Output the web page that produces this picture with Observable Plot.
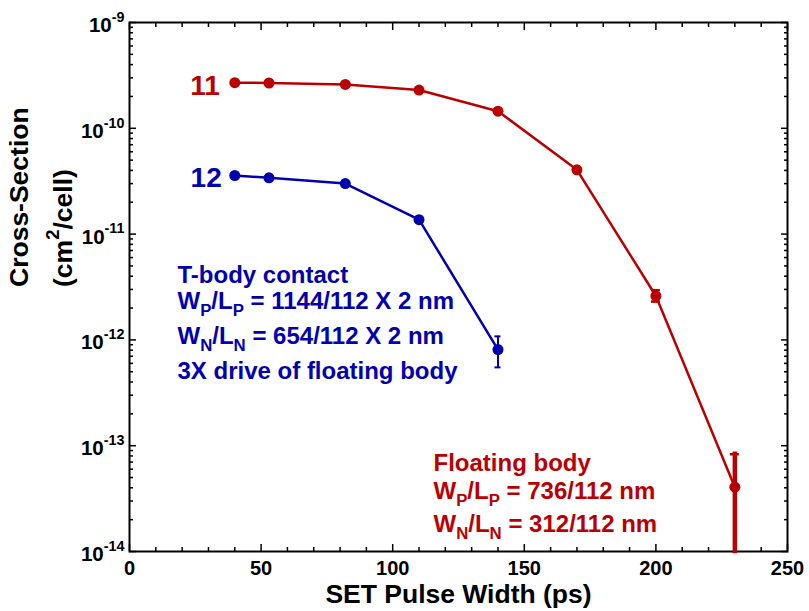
<!DOCTYPE html>
<html>
<head>
<meta charset="utf-8">
<script src="https://cdn.jsdelivr.net/npm/d3@7"></script>
<script src="https://cdn.jsdelivr.net/npm/@observablehq/plot@0.6"></script>
<style>
  body { margin: 0; background: #fff; }
  #chart { width: 809px; height: 611px; }
</style>
</head>
<body>
<div id="chart"></div>
<script>
// Series labels
const seriesNames = ["11", "12"];

// Floating body inverter chain (series "11")
const pulseWidth11 = [40, 53, 82, 110, 140, 170, 200, 230];
const crossSection11 = [2.7e-10, 2.68e-10, 2.6e-10, 2.3e-10, 1.45e-10, 4.05e-11, 2.6e-12, 4.05e-14];
const errX11 = [200, 230];
const errLo11 = [2.3e-12, 1e-14];
const errHi11 = [2.95e-12, 8.3e-14];

// T-body contact inverter chain (series "12")
const pulseWidth12 = [40, 53, 82, 110, 140];
const crossSection12 = [3.58e-11, 3.4e-11, 3.0e-11, 1.37e-11, 8.1e-13];
const errX12 = [140];
const errLo12 = [5.5e-13];
const errHi12 = [1.08e-12];

// Axis ticks
const xTicks = [0, 50, 100, 150, 200, 250];
const yTicks = [1e-14, 1e-13, 1e-12, 1e-11, 1e-10, 1e-9];

// Annotation text (markup: _{..} subscript, ^{..} superscript)
const noteTBody = ["T-body contact", "W_{P}/L_{P} = 1144/112 X 2 nm", "W_{N}/L_{N} = 654/112 X 2 nm", "3X drive of floating body"];
const noteFloating = ["Floating body", "W_{P}/L_{P} = 736/112 nm", "W_{N}/L_{N} = 312/112 nm"];
const xTitle = "SET Pulse Width (ps)";
const yTitle = ["Cross-Section", "(cm^{2}/cell)"];

const RED = "#ba0000";
const BLUE = "#0000b0";
const FONT = "'Liberation Sans', Arial, Helvetica, sans-serif";

const pts11 = pulseWidth11.map((x, i) => ({x, y: crossSection11[i]}));
const pts12 = pulseWidth12.map((x, i) => ({x, y: crossSection12[i]}));
const err11 = errX11.map((x, i) => ({x, lo: errLo11[i], hi: errHi11[i]}));
const err12 = errX12.map((x, i) => ({x, lo: errLo12[i], hi: errHi12[i]}));

const xMinor = d3.range(10, 250, 10).filter(v => v % 50 !== 0);
const yMinor = [];
for (let k = -14; k < -9; ++k) for (let m = 2; m <= 9; ++m) yMinor.push(m * Math.pow(10, k));

// Inward ticks on all four sides of the frame
const blank = () => "";
const tickMarks = [];
for (const anchor of ["bottom", "top"]) {
  tickMarks.push(Plot.axisX({anchor, ticks: xTicks, tickSize: -7, tickFormat: blank, label: null, strokeWidth: 1.5}));
  tickMarks.push(Plot.axisX({anchor, ticks: xMinor, tickSize: -4, tickFormat: blank, label: null, strokeWidth: 1.5}));
}
for (const anchor of ["left", "right"]) {
  tickMarks.push(Plot.axisY({anchor, ticks: yTicks, tickSize: -7, tickFormat: blank, label: null, strokeWidth: 1.5}));
  tickMarks.push(Plot.axisY({anchor, ticks: yMinor, tickSize: -4, tickFormat: blank, label: null, strokeWidth: 1.5}));
}

// Device description blocks
const noteMarks = [];
const tBodyOffsets = [253, 279, 314, 349];
noteTBody.forEach((line, i) => noteMarks.push(
  Plot.text([line], {text: d => d, frameAnchor: "top-left", textAnchor: "start", lineAnchor: "middle",
    dx: 48, dy: tBodyOffsets[i], fill: BLUE, fontSize: 24})));
const floatingOffsets = [441, 469, 502];
noteFloating.forEach((line, i) => noteMarks.push(
  Plot.text([line], {text: d => d, frameAnchor: "top-left", textAnchor: "start", lineAnchor: "middle",
    dx: 304, dy: floatingOffsets[i], fill: RED, fontSize: 24})));

const chart = Plot.plot({
  width: 809,
  height: 611,
  marginLeft: 129,
  marginRight: 22,
  marginTop: 22,
  marginBottom: 60,
  style: {fontFamily: FONT, fontWeight: "bold", fontSize: "20px", color: "#000", background: "#fff"},
  x: {domain: [0, 250]},
  y: {type: "log", domain: [1e-14, 1e-9]},
  marks: [
    ...tickMarks,
    Plot.axisX({anchor: "bottom", ticks: xTicks, tickSize: 0, tickPadding: 9, label: null, fontSize: 20}),
    Plot.axisY({anchor: "left", ticks: yTicks, tickSize: 0, tickPadding: 5, label: null, fontSize: 20.5, dy: 3,
      tickFormat: d => `10^{${Math.round(Math.log10(d))}}`}),
    Plot.frame({stroke: "#000", strokeWidth: 2}),

    // series 11
    Plot.line(pts11, {x: "x", y: "y", stroke: RED, strokeWidth: 2.5}),
    Plot.ruleX(err11, {x: "x", y1: "lo", y2: "hi", stroke: RED, strokeWidth: 2.5, filter: d => d.x < 220}),
    Plot.ruleX(err11, {x: "x", y1: "lo", y2: "hi", stroke: RED, strokeWidth: 4.5, strokeLinecap: "square", filter: d => d.x >= 220}),
    Plot.ruleY(err11, {y: "hi", x1: "x", x2: "x", insetLeft: -4.5, insetRight: -4.5, stroke: RED, strokeWidth: 2.5}),
    Plot.ruleY(err11, {y: "lo", x1: "x", x2: "x", insetLeft: -4.5, insetRight: -4.5, stroke: RED, strokeWidth: 2.5, filter: d => d.x < 220}),
    Plot.dot(pts11, {x: "x", y: "y", r: 5.5, fill: RED}),
    Plot.text(pts11.slice(0, 1), {x: "x", y: "y", text: () => seriesNames[0], textAnchor: "end", dx: -15, dy: 3, fill: RED, fontSize: 28}),

    // series 12
    Plot.line(pts12, {x: "x", y: "y", stroke: BLUE, strokeWidth: 2.5}),
    Plot.ruleX(err12, {x: "x", y1: "lo", y2: "hi", stroke: BLUE, strokeWidth: 2}),
    Plot.ruleY(err12, {y: "hi", x1: "x", x2: "x", insetLeft: -3, insetRight: -3, stroke: BLUE, strokeWidth: 2}),
    Plot.ruleY(err12, {y: "lo", x1: "x", x2: "x", insetLeft: -3, insetRight: -3, stroke: BLUE, strokeWidth: 2}),
    Plot.dot(pts12, {x: "x", y: "y", r: 5.5, fill: BLUE}),
    Plot.text(pts12.slice(0, 1), {x: "x", y: "y", text: () => seriesNames[1], textAnchor: "end", dx: -13, dy: 3, fill: BLUE, fontSize: 28}),

    ...noteMarks,

    // axis titles
    Plot.text([xTitle], {text: d => d, frameAnchor: "bottom", lineAnchor: "middle", dy: 43.5, fontSize: 26.5, fill: "#000"}),
    Plot.text([yTitle[0]], {text: d => d, frameAnchor: "left", rotate: -90, lineAnchor: "middle", dx: -110, fontSize: 26.5, fill: "#000"}),
    Plot.text([yTitle[1]], {text: d => d, frameAnchor: "left", rotate: -90, lineAnchor: "middle", dx: -66, fontSize: 26.5, fill: "#000"})
  ]
});

// Turn _{..} and ^{..} markup into sub/superscript tspans
function applyScripts(svg) {
  d3.select(svg).selectAll("text").each(function () {
    const el = this;
    const s = el.textContent;
    if (!/[_^]\{/.test(s)) return;
    const parts = s.split(/([_^]\{[^}]*\})/).filter(p => p !== "");
    el.textContent = "";
    let shift = 0;
    for (const p of parts) {
      const t = d3.select(el).append("tspan");
      const m = p.match(/^([_^])\{([^}]*)\}$/);
      if (m) {
        const k = m[1] === "^" ? -0.5 : 0.3;
        t.attr("font-size", "0.7em").attr("dy", `${((k - shift) / 0.7).toFixed(3)}em`).text(m[2]);
        shift = k;
      } else {
        if (shift) t.attr("dy", `${(-shift).toFixed(3)}em`);
        t.text(p);
        shift = 0;
      }
    }
  });
}
applyScripts(chart);

document.getElementById("chart").appendChild(chart);
</script>
</body>
</html>
